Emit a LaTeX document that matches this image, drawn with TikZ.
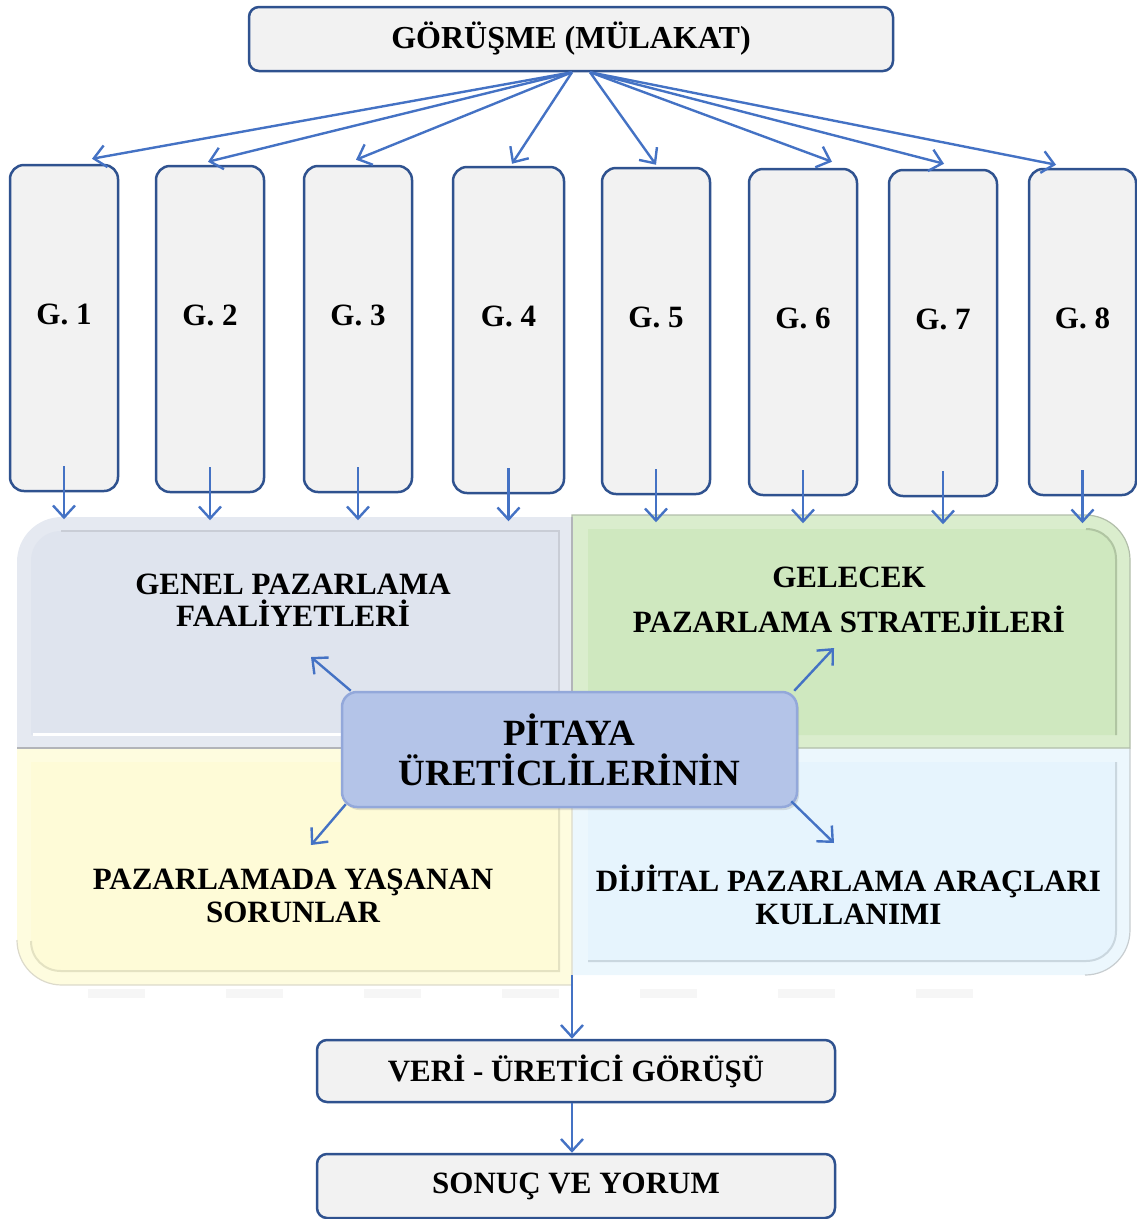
\documentclass[tikz,border=0pt]{standalone}
\usepackage{fontspec}
\setmainfont{Liberation Serif}
\usetikzlibrary{arrows.meta,shadows}

\definecolor{conn}{HTML}{4472C4}
\definecolor{boxline}{HTML}{2F528F}
\definecolor{boxfill}{HTML}{F2F2F2}
% matrix quadrant face colours
\definecolor{tlface}{HTML}{DFE4EE}
\definecolor{trface}{HTML}{CFE8BF}
\definecolor{blface}{HTML}{FEFBD7}
\definecolor{brface}{HTML}{E6F4FD}
\definecolor{hubfill}{HTML}{B4C4E8}
\definecolor{hubline}{HTML}{93A8DA}

\begin{document}
\begin{tikzpicture}[x=1pt,y=-1pt,
  stagebox/.style={draw=boxline,line width=2.5pt,fill=boxfill,rounded corners=10pt,
    inner sep=0pt,font=\fontsize{31}{34}\selectfont\bfseries,align=center},
  gbox/.style={stagebox,rounded corners=14pt,minimum width=108pt,minimum height=326pt,
    text height=21pt,text depth=28pt},
  link/.style={draw=conn,line width=2.4pt,-{Straight Barb[length=12pt,width=22pt,line width=2.4pt]}},
  qtext/.style={font=\fontsize{31}{32}\selectfont\bfseries,align=center,inner sep=0pt},
  rim/.style={line width=1.2pt},
  facerim/.style={line width=2pt},
]
\useasboundingbox (0,0) rectangle (1137,1219);

% ---- top node
\node[stagebox,minimum width=644pt,minimum height=64pt,font=\fontsize{32}{34}\selectfont\bfseries]
  (top) at (571,39) {GÖRÜŞME (MÜLAKAT)};

% ---- interview columns
\node[gbox] (g1) at (64,328)    {G. 1};
\node[gbox] (g2) at (210,329)   {G. 2};
\node[gbox] (g3) at (358,329)   {G. 3};
\node[gbox,minimum width=111pt] (g4) at (508.5,330) {G. 4};
\node[gbox] (g5) at (656,331)   {G. 5};
\node[gbox] (g6) at (803,332)   {G. 6};
\node[gbox] (g7) at (943,333)   {G. 7};
\node[gbox,minimum width=107pt] (g8) at (1082.5,332) {G. 8};

% ---- fan-out from the top node
\draw[link] ([xshift=1pt]top.south)  -- ([xshift=28pt,yshift=5pt]g1.north);
\draw[link] ([xshift=1pt]top.south)  -- ([xshift=-2pt,yshift=3pt]g2.north);
\draw[link] ([xshift=1pt]top.south)  -- ([xshift=-2pt,yshift=5pt]g3.north);
\draw[link] ([xshift=1pt]top.south)  -- ([xshift=3.5pt,yshift=2pt]g4.north);
\draw[link] ([xshift=19pt]top.south) -- ([yshift=2pt]g5.north);
\draw[link] ([xshift=19pt]top.south) -- ([xshift=29pt,yshift=6pt]g6.north);
\draw[link] ([xshift=19pt]top.south) -- ([xshift=1pt,yshift=5pt]g7.north);
\draw[link] ([xshift=19pt]top.south) -- ([xshift=-26.5pt,yshift=3pt]g8.north);

% ---- faint reflection under the matrix
\draw[gray!7,line width=9pt,dash pattern=on 57pt off 81pt] (88,993) -- (1000,993);

% ---- 2x2 matrix (bevelled quadrants)
% bottom right
\fill[brface!75!white] (572,748) -- (1130,748) -- (1130,930) .. controls (1130,955) and (1110,975) .. (1085,975) -- (572,975) -- cycle;
\draw[brface!70!black!60,rim] (1130,748) -- (1130,930) .. controls (1130,955) and (1110,975) .. (1085,975);
\fill[brface] (588,762) -- (1116,762) -- (1116,931) .. controls (1116,948) and (1103,961) .. (1086,961) -- (588,961) -- cycle;
\draw[brface!88!black,facerim] (1116,762) -- (1116,931) .. controls (1116,948) and (1103,961) .. (1086,961) -- (588,961);
% bottom left
\fill[blface!80!white] (17,748) -- (572,748) -- (572,985) -- (62,985) .. controls (37,985) and (17,965) .. (17,940) -- cycle;
\draw[blface!75!black!55,rim] (572,748) -- (572,985) -- (62,985) .. controls (37,985) and (17,965) .. (17,940);
\fill[blface] (31,762) -- (559,762) -- (559,971) -- (61,971) .. controls (44,971) and (31,958) .. (31,941) -- cycle;
\draw[blface!90!black,facerim] (559,762) -- (559,971) -- (61,971) .. controls (44,971) and (31,958) .. (31,941);
% top right
\fill[trface!78!white] (572,748) -- (572,515) -- (1085,515) .. controls (1110,515) and (1130,535) .. (1130,560) -- (1130,748) -- cycle;
\draw[trface!70!black!70,rim] (572,748) -- (572,515) -- (1085,515) .. controls (1110,515) and (1130,535) .. (1130,560) -- (1130,748) -- (572,748);
\fill[trface] (588,529) -- (1086,529) .. controls (1103,529) and (1116,542) .. (1116,559) -- (1116,735) -- (588,735) -- cycle;
\draw[trface!85!black,facerim] (1086,529) .. controls (1103,529) and (1116,542) .. (1116,559) -- (1116,735);
% top left
\fill[tlface!82!white] (17,748) -- (17,562) .. controls (17,537) and (37,517) .. (62,517) -- (572,517) -- (572,748) -- cycle;
\draw[tlface!65!black!70,rim] (17,748) -- (572,748) -- (572,517);
\fill[tlface] (31,735) -- (31,561) .. controls (31,544) and (44,531) .. (61,531) -- (559,531) -- (559,735) -- cycle;
\draw[tlface!90!black,facerim] (61,531) -- (559,531) -- (559,735);
\draw[white,line width=3pt] (33,734) -- (557,734);

% ---- columns feed the matrix
\foreach \g in {g1,g2,g3,g4,g5,g6,g7,g8}
  \draw[link] ([yshift=26pt]\g.south) -- ([yshift=-27pt]\g.south);

% ---- quadrant titles
\node[qtext] (q1) at (293,600) {GENEL PAZARLAMA\\FAALİYETLERİ};
\node[qtext,font=\fontsize{31}{45}\selectfont\bfseries] (q2) at (849,600) {GELECEK\\PAZARLAMA STRATEJİLERİ};
\node[qtext,font=\fontsize{31}{33}\selectfont\bfseries] (q3) at (293,895.5) {PAZARLAMADA YAŞANAN\\SORUNLAR};
\node[qtext,font=\fontsize{31}{33}\selectfont\bfseries] (q4) at (848.5,894.5) {DİJİTAL PAZARLAMA ARAÇLARI\\KULLANIMI};

% ---- central hub
\node[draw=hubline,line width=2.5pt,fill=hubfill,rounded corners=15pt,
  minimum width=455pt,minimum height=115pt,inner sep=0pt,align=center,
  font=\fontsize{37}{40}\selectfont\bfseries,
  drop shadow={opacity=0.22,shadow xshift=2pt,shadow yshift=-3pt}]
  (hub) at (569.5,749.5) {PİTAYA\\ÜRETİCLİLERİNİN};

\coordinate (a1) at (311,657);
\coordinate (a2) at (834,648);
\coordinate (a3) at (311,845);
\coordinate (a4) at (834,843);
\draw[link] ([xshift=10pt]hub.north west) -- (a1);
\draw[link] ([xshift=-4pt]hub.north east) -- (a2);
\draw[link] ([xshift=5pt,yshift=4pt]hub.south west) -- (a3);
\draw[link] ([xshift=-7pt,yshift=7pt]hub.south east) -- (a4);

% ---- results chain
\node[stagebox,minimum width=518pt,minimum height=62pt] (veri) at (576,1071) {VERİ - ÜRETİCİ GÖRÜŞÜ};
\node[stagebox,minimum width=518pt,minimum height=64pt] (sonuc) at (576,1186) {SONUÇ VE YORUM};

\coordinate (mbot) at (572,975);
\draw[link,line width=1.8pt] (mbot) -- (mbot |- veri.north);
\draw[link] (veri.south -| mbot) -- (sonuc.north -| mbot);
\end{tikzpicture}
\end{document}
